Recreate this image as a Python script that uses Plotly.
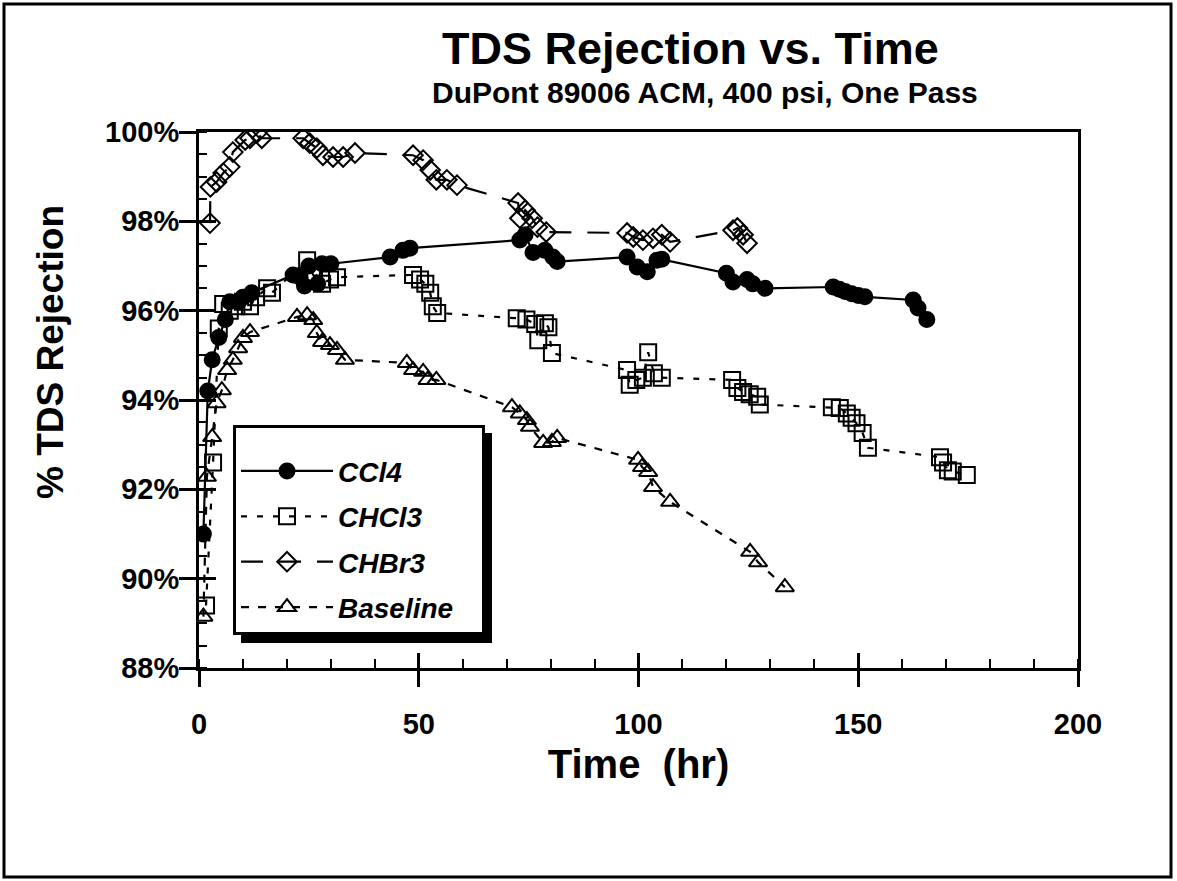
import plotly.graph_objects as go

# ---------------- data ----------------
ccl4_t = [1, 2, 3, 4.5, 6, 7, 9, 10, 12, 21.4, 23, 24, 25, 27, 28, 30,
          43.5, 46.4, 48, 73, 74.2, 76, 78.7, 80.5, 81.5,
          97.4, 99.7, 102, 104.2, 105.3, 120, 121.5, 124.7, 126, 128.8,
          144.3, 145.7, 147, 148.5, 150, 151.5, 162.5, 163.6, 165.6]
ccl4_v = [91.0, 94.2, 94.9, 95.4, 95.8, 96.2, 96.2, 96.3, 96.4, 96.8, 96.75, 96.55, 97.0, 96.6, 97.05, 97.05,
          97.2, 97.35, 97.4, 97.58, 97.7, 97.3, 97.35, 97.2, 97.1,
          97.2, 96.98, 96.87, 97.13, 97.15, 96.84, 96.64, 96.7, 96.6, 96.5,
          96.53, 96.48, 96.43, 96.38, 96.34, 96.31, 96.24, 96.06, 95.8]

chcl3_t = [1.6, 3.2, 4.5, 5.5, 7, 8.5, 10, 11.6, 13, 15.5, 16.6,
           24.6, 28, 29.8, 31.4, 48.7, 50.3, 51.5, 52.6, 53.2, 54.2,
           72.3, 74.5, 76.5, 77.2, 78.7, 79.5, 80.3,
           97.4, 98, 99.5, 101, 102.2, 103.5, 105.3,
           121.3, 122.5, 123.8, 125.3, 127, 127.6,
           144, 145.8, 147.4, 148.5, 149.6, 151, 152.2,
           168.6, 169.3, 170.4, 171.5, 174.7]
chcl3_v = [89.4, 92.6, 95.6, 96.15, 96.0, 96.1, 96.2, 96.1, 96.3, 96.5, 96.4,
           97.13, 96.6, 96.7, 96.75, 96.8, 96.7, 96.6, 96.4, 96.1, 95.95,
           95.83, 95.8, 95.7, 95.34, 95.72, 95.63, 95.05,
           94.67, 94.34, 94.45, 94.5, 95.07, 94.6, 94.5,
           94.45, 94.27, 94.18, 94.13, 94.07, 93.9,
           93.84, 93.82, 93.7, 93.6, 93.48, 93.26, 92.93,
           92.72, 92.6, 92.43, 92.4, 92.32]

chbr3_t = [2.5, 2.6, 4, 5.5, 7, 7.7, 10.5, 11.6, 13.2, 14.3,
           23.7, 25.2, 26.8, 28.2, 30.5, 32.8, 35.5,
           48.7, 51, 52.6, 54, 56.4, 58.7,
           72.6, 73, 74.2, 75.8, 77, 79,
           97.4, 98.8, 101, 103.3, 105.3, 107.2,
           121.5, 122.5, 123.8, 124.7]
chbr3_v = [97.96, 98.77, 98.88, 99.08, 99.22, 99.55, 99.82, 99.86, 99.98, 99.86,
           99.86, 99.75, 99.64, 99.48, 99.44, 99.44, 99.53,
           99.48, 99.37, 99.15, 98.93, 98.93, 98.81,
           98.41, 98.07, 98.25, 98.07, 97.87, 97.76,
           97.74, 97.65, 97.58, 97.62, 97.7, 97.54,
           97.8, 97.85, 97.7, 97.51]

base_t = [1, 1.8, 3, 4, 5.2, 6.4, 7.7, 8.9, 10, 11.6,
          22.3, 24.6, 26, 26.8, 28, 29.8, 31.4, 33.2,
          47.3, 48.7, 51, 52, 54,
          71.2, 73, 74.6, 75.3, 78.3, 80.3, 81.5,
          99.9, 100.8, 102.2, 103.3, 107.2,
          125.4, 127.2, 133.3]
base_v = [89.15, 92.28, 93.17, 93.93, 94.22, 94.67, 94.9, 95.16, 95.39, 95.52,
          95.86, 95.9, 95.79, 95.5, 95.3, 95.23, 95.12, 94.9,
          94.83, 94.67, 94.63, 94.45, 94.45,
          93.84, 93.7, 93.55, 93.4, 93.04, 93.06, 93.15,
          92.66, 92.5, 92.39, 92.05, 91.72,
          90.6, 90.37, 89.81]

x_ticks = [0, 50, 100, 150, 200]
x_ticktext = ["0", "50", "100", "150", "200"]
y_ticks = [88, 90, 92, 94, 96, 98, 100]
y_ticktext = ["88%", "90%", "92%", "94%", "96%", "98%", "100%"]

# ---------------- figure ----------------
W, H = 1177, 881
ML, MR, MT, MB = 199, 99, 132, 213
PW, PH = W - ML - MR, H - MT - MB


def px2paper_x(px):
    return (px - ML) / PW


def px2paper_y(py):
    return (H - MB - py) / PH


FONT = "Liberation Sans, Arial, Helvetica, sans-serif"

fig = go.Figure()

series = [
    ("CCl4", ccl4_t, ccl4_v, "dot_solid", "circle"),
    ("CHCl3", chcl3_t, chcl3_v, "dot", "square-open"),
    ("CHBr3", chbr3_t, chbr3_v, "longdash", "diamond-open"),
    ("Baseline\u00a0\u00a0\u00a0", base_t, base_v, "dash", "triangle-up-open"),
]
dash_map = {"dot_solid": "solid", "dot": "6px,10px", "longdash": "22px,16px", "dash": "8px,9px"}
size_map = {"circle": 15, "square-open": 16, "diamond-open": 15, "triangle-up-open": 16}

for name, t, v, dash, sym in series:
    fig.add_trace(go.Scatter(
        x=t, y=v, name=name, mode="lines+markers",
        legendgroup=name,
        line=dict(color="black", width=2.2, dash=dash_map[dash]),
        marker=dict(symbol=sym, size=size_map[sym], color="black",
                    line=dict(color="black", width=2)),
    ))

# empty trace to carry the overlay axes (inner half of crossing ticks)
fig.add_trace(go.Scatter(x=[None], y=[None], xaxis="x2", yaxis="y2",
                         showlegend=False, hoverinfo="skip"))

tickfont = dict(family=FONT, size=29, color="black", weight="bold")

fig.update_layout(
    width=W, height=H,
    margin=dict(l=ML, r=MR, t=MT, b=MB),
    paper_bgcolor="white", plot_bgcolor="white",
    showlegend=True,
    xaxis=dict(range=[0, 200], tickvals=x_ticks, ticktext=x_ticktext, ticks="outside", ticklen=16,
               tickwidth=2.5, tickcolor="black", showline=True, linewidth=3, linecolor="black", mirror=True,
               showgrid=False, zeroline=False, tickfont=tickfont, ticklabelstandoff=12,
               minor=dict(ticks="inside", dtick=10, ticklen=9, tickwidth=2, tickcolor="black", showgrid=False),
               title=dict(text="Time  (hr)", font=dict(family=FONT, size=40, color="black", weight="bold"),
                          standoff=12)),
    yaxis=dict(range=[88, 100], tickvals=y_ticks, ticktext=y_ticktext, ticks="outside", ticklen=17,
               tickwidth=2.5, tickcolor="black", showline=True, linewidth=3, linecolor="black", mirror=True,
               showgrid=False, zeroline=False, tickfont=tickfont, ticklabelstandoff=-6,
               minor=dict(ticks="inside", dtick=0.5, ticklen=8, tickwidth=2, tickcolor="black", showgrid=False)),
    xaxis2=dict(range=[0, 200], overlaying="x", anchor="y2", side="bottom", tickvals=x_ticks,
                ticks="inside", ticklen=15, tickwidth=2.5, tickcolor="black", showticklabels=False,
                showline=False, showgrid=False, zeroline=False),
    yaxis2=dict(range=[88, 100], overlaying="y", anchor="x2", side="left", tickvals=y_ticks,
                ticks="inside", ticklen=17, tickwidth=2.5, tickcolor="black", showticklabels=False,
                showline=False, showgrid=False, zeroline=False),
    legend=dict(x=px2paper_x(233), y=px2paper_y(425), xanchor="left", yanchor="top",
                bgcolor="white", bordercolor="black", borderwidth=3,
                font=dict(family=FONT, size=28, color="black", weight="bold", style="italic"),
                title=dict(text="\u00a0", font=dict(size=14)),
                tracegroupgap=6, itemwidth=92),
    annotations=[
        dict(text="TDS Rejection vs. Time", x=px2paper_x(690), y=px2paper_y(49), xref="paper", yref="paper",
             showarrow=False, xanchor="center", yanchor="middle",
             font=dict(family=FONT, size=45, color="black", weight="bold")),
        dict(text="DuPont 89006 ACM, 400 psi, One Pass", x=px2paper_x(705), y=px2paper_y(92),
             xref="paper", yref="paper", showarrow=False, xanchor="center", yanchor="middle",
             font=dict(family=FONT, size=30, color="black", weight="bold")),
        dict(text="% TDS Rejection", x=px2paper_x(50), y=px2paper_y(352), xref="paper", yref="paper",
             showarrow=False, xanchor="center", yanchor="middle", textangle=-90,
             font=dict(family=FONT, size=37, color="black", weight="bold")),
    ],
    shapes=[
        # legend drop shadow
        dict(type="rect", xref="paper", yref="paper", layer="above",
             x0=px2paper_x(241), x1=px2paper_x(492), y0=px2paper_y(643), y1=px2paper_y(433),
             fillcolor="black", line=dict(width=0)),
        # outer frame
        dict(type="rect", xref="paper", yref="paper", layer="above",
             x0=px2paper_x(4), x1=px2paper_x(1171), y0=px2paper_y(877), y1=px2paper_y(4),
             fillcolor="rgba(0,0,0,0)", line=dict(color="black", width=3)),
    ],
)

fig.write_html("out.html")
